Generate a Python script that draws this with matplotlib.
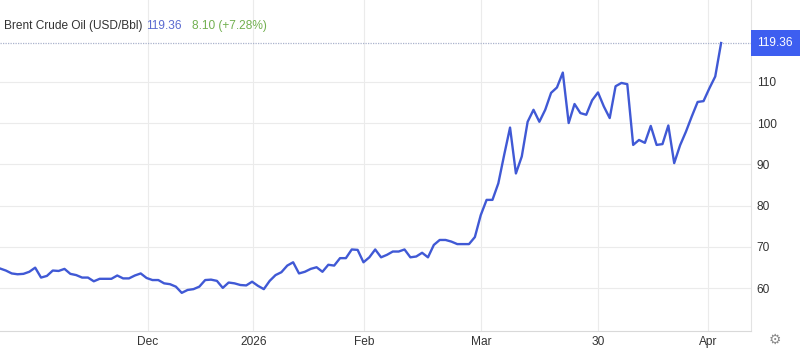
import matplotlib
matplotlib.use("Agg")
import matplotlib.pyplot as plt
import matplotlib.transforms as mtransforms
import numpy as np

# ---- data ----
prices = [64.8, 64.3, 63.6, 63.4, 63.5, 64.0, 65.0, 62.6, 63.0, 64.3,
          64.2, 64.7, 63.5, 63.2, 62.6, 62.6, 61.7, 62.3, 62.3, 62.3,
          63.1, 62.4, 62.4, 63.1, 63.6, 62.5, 62.0, 62.0, 61.2, 61.0,
          60.4, 58.9, 59.6, 59.8, 60.4, 62.0, 62.1, 61.8, 60.1, 61.4,
          61.2, 60.8, 60.7, 61.6, 60.6, 59.8, 61.8, 63.2, 63.9, 65.5,
          66.3, 63.6, 64.0, 64.7, 65.1, 64.0, 65.7, 65.5, 67.3, 67.3,
          69.4, 69.3, 66.3, 67.5, 69.4, 67.5, 68.1, 68.9, 68.9, 69.4,
          67.5, 67.7, 68.6, 67.5, 70.5, 71.7, 71.7, 71.3, 70.7, 70.7,
          70.7, 72.4, 77.7, 81.4, 81.4, 85.4, 92.3, 98.9, 87.8, 91.9,
          100.3, 103.2, 100.3, 103.2, 107.3, 108.6, 112.2, 100.0, 104.6, 102.4,
          102.0, 105.5, 107.4, 104.0, 101.2, 108.9, 109.7, 109.4, 94.7, 95.9,
          95.2, 99.3, 94.7, 94.9, 99.4, 90.3, 94.6, 97.9, 101.6, 105.1,
          105.3, 108.4, 111.26, 119.36]
tick_index = [25.2, 43.2, 62.1, 82.05, 102.0, 120.8]
tick_labels = ["Dec", "2026", "Feb", "Mar", "30", "Apr"]
y_ticks = [60, 70, 80, 90, 100, 110]
title = "Brent Crude Oil (USD/Bbl)"
last_value = 119.36
change = 8.10
change_pct = 7.28

# ---- figure ----
W, H = 800, 352
fig = plt.figure(figsize=(W / 100, H / 100), dpi=100)
ax = fig.add_axes([0, 21 / H, 751 / W, 331 / H])

x = np.arange(len(prices))
ax.plot(x, prices, color="#4059d5", lw=1.7, solid_joinstyle="round", zorder=3)

ax.set_xlim(0, 128.1)
ax.set_ylim(49.67, 129.77)

font = "Liberation Sans"
ax.set_yticks(y_ticks)
ax.set_yticklabels([str(v) for v in y_ticks])
ax.set_xticks(tick_index)
ax.set_xticklabels(tick_labels)
ax.yaxis.tick_right()
ax.tick_params(axis="y", length=0, pad=4.2, labelsize=8.6, labelcolor="#333333")
ax.tick_params(axis="x", length=0, pad=3.5, labelsize=8.6, labelcolor="#333333")
for lab in ax.get_xticklabels() + ax.get_yticklabels():
    lab.set_fontfamily(font)

ax.grid(True, color="#ebebeb", lw=0.8, zorder=0)
for s in ["top", "left"]:
    ax.spines[s].set_visible(False)
ax.spines["bottom"].set_color("#d9d9d9")
ax.spines["bottom"].set_linewidth(0.8)
ax.spines["right"].set_color("#e3e3e3")
ax.spines["right"].set_linewidth(0.8)

# dotted last-value line and label box
ax.axhline(last_value, color="#aab3cc", lw=0.9, ls=(0, (1, 1)), zorder=2)
trans = mtransforms.blended_transform_factory(ax.transAxes, ax.transData)
trans = mtransforms.offset_copy(trans, fig=fig, x=6.5, y=0, units="dots")
ax.text(1.0, last_value, f"{last_value:.2f}", transform=trans, ha="left", va="center",
        fontsize=8.6, family=font, color="white", clip_on=False,
        bbox=dict(boxstyle="square,pad=0.55", fc="#3d5ef0", ec="none"))

# header
renderer = fig.canvas.get_renderer()
ty = 1 - 26 / H
t1 = fig.text(4 / W, ty, title, ha="left", va="center", fontsize=8.6,
              family=font, color="#333333")
bb = t1.get_window_extent(renderer)
t2 = fig.text((bb.x1 + 4) / W, ty, f"{last_value:.2f}", ha="left", va="center",
              fontsize=8.6, family=font, color="#5a6ad0")
bb2 = t2.get_window_extent(renderer)
fig.text((bb2.x1 + 10) / W, ty, f"{change:.2f} (+{change_pct:.2f}%)", ha="left",
         va="center", fontsize=8.6, family=font, color="#72b050")

# settings gear
fig.text(775 / W, 1 - 340 / H, "\u2699", ha="center", va="center", fontsize=10,
         family="DejaVu Sans", color="#8a8a8a")

fig.savefig("out.png", dpi=100)
